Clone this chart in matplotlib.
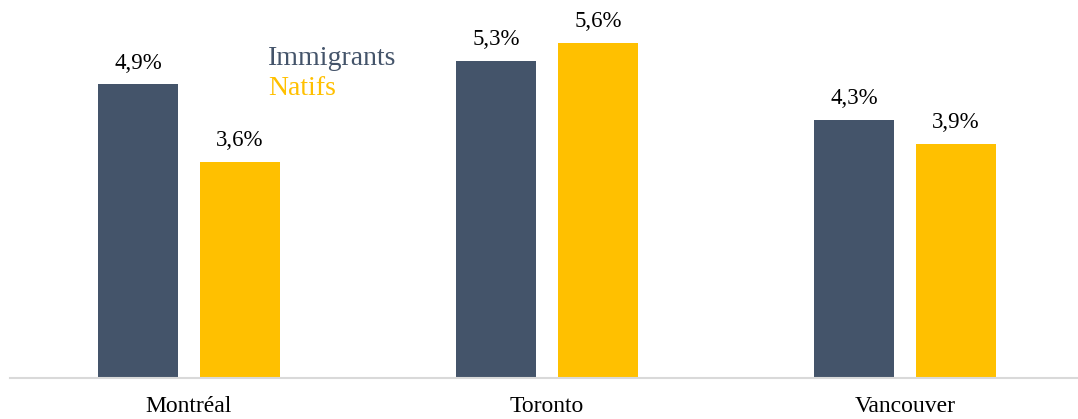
import matplotlib
matplotlib.use("Agg")
import matplotlib.pyplot as plt
import numpy as np

categories = ["Montréal", "Toronto", "Vancouver"]
immigrants = [4.9, 5.3, 4.3]
natifs = [3.6, 5.6, 3.9]
series_names = ["Immigrants", "Natifs"]
colors = ["#44546A", "#FFC000"]

plt.rcParams['font.family'] = ['Liberation Serif', 'DejaVu Serif']

W, H = 1078, 419
fig = plt.figure(figsize=(W / 100, H / 100), dpi=100)
left_px, bottom_px, right_px, top_px = 10, 377.5, 1078, 0
ax = fig.add_axes([left_px / W, 1 - bottom_px / H, (right_px - left_px) / W, (bottom_px - top_px) / H])

spacing = 358.0
ax.set_xlim(-0.5, -0.5 + (right_px - left_px) / spacing)
ax.set_ylim(0, (bottom_px - top_px) / 59.8)

x = np.arange(len(categories))
bw = 80 / spacing
off = 51 / spacing
for vals, dx, c in [(immigrants, -off, colors[0]), (natifs, off, colors[1])]:
    bars = ax.bar(x + dx, vals, width=bw, color=c, zorder=2)
    for b, v in zip(bars, vals):
        ax.annotate(f"{v:.1f}%".replace(".", ","), (b.get_x() + b.get_width() / 2, v),
                    xytext=(0, 11.5), textcoords="offset points", ha="center", va="baseline",
                    fontsize=16.5, color="black")

for s in ["top", "right", "left"]:
    ax.spines[s].set_visible(False)
ax.spines["bottom"].set_color("#D9D9D9")
ax.spines["bottom"].set_linewidth(1.5)
ax.set_yticks([])
ax.set_xticks(x)
ax.set_xticklabels(categories, fontsize=17)
ax.tick_params(axis="x", length=0, pad=13.5)

fig.text(268 / W, 1 - 65 / H, series_names[0], color=colors[0], fontsize=20, ha="left", va="baseline")
fig.text(268 / W, 1 - 95 / H, series_names[1], color=colors[1], fontsize=20, ha="left", va="baseline")

fig.savefig("out.png", dpi=100)
